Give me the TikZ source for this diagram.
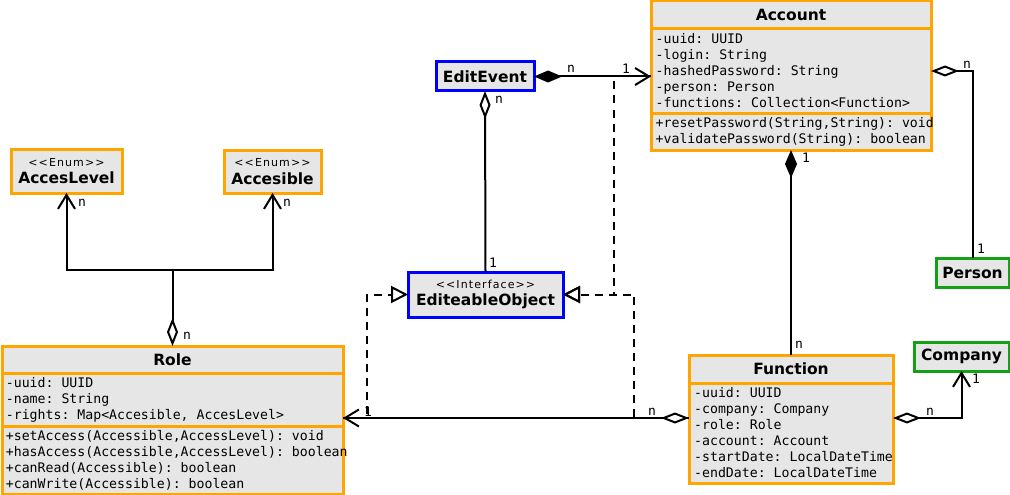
\documentclass[tikz,border=0pt]{standalone}
\usepackage{fontspec}
\setmainfont{DejaVu Sans}
\setmonofont{DejaVu Sans Mono}
\newfontfamily\stf{DejaVu Sans}[LetterSpace=10]
\usetikzlibrary{arrows.meta}
\definecolor{orng}{RGB}{255,165,0}
\definecolor{grn}{RGB}{20,160,20}
\definecolor{blu}{RGB}{0,0,255}
\definecolor{boxfill}{RGB}{230,230,230}
\tikzset{
  comp/.style={draw=orng, line width=3pt, fill=boxfill, anchor=north west, inner sep=0pt, outer sep=0pt},
  titlec/.style={comp, font=\fontsize{15.5}{18}\selectfont\bfseries, align=center},
  listtxt/.style={font=\fontsize{13.2}{16}\selectfont\ttfamily, align=left, inner sep=0pt, anchor=west},
  simple/.style={line width=3pt, fill=boxfill, anchor=north west, inner sep=0pt, outer sep=0pt,
    font=\fontsize{15.5}{17.6}\selectfont\bfseries, align=center},
  assoc/.style={draw=black, line width=2pt},
  real/.style={assoc, dash pattern=on 8pt off 6pt},
  mult/.style={font=\fontsize{13}{13}\selectfont\ttfamily, inner sep=0pt},
  umlO/.tip={Diamond[fill=white,length=28pt,width=11pt]},
  umlF/.tip={Diamond[length=28pt,width=12pt]},
  umlB/.tip={Straight Barb[length=14pt,width=17pt]},
  umlT/.tip={Triangle[open,length=17pt,width=17pt]},
}
\newcommand{\stereotype}[1]{{\stf\mdseries\fontsize{11}{12}\selectfont #1}}
\begin{document}
\begin{tikzpicture}[x=1pt,y=-1pt]
\useasboundingbox (0,0) rectangle (1010,495);

% Account
\node[titlec, minimum width=280pt, minimum height=28pt] (accT) at (651,1) {Account};
\node[comp, minimum width=280pt, minimum height=84pt] (accA) at (651,29) {};
\node[comp, minimum width=280pt, minimum height=37pt] (accM) at (651,113) {};
\node[listtxt] (accAt) at ([xshift=4.5pt]accA.west)
  {-uuid: UUID\\-login: String\\-hashedPassword: String\\-person: Person\\-functions: Collection<Function>};
\node[listtxt] (accMt) at ([xshift=4.5pt]accM.west)
  {+resetPassword(String,String): void\\+validatePassword(String): boolean};

% Role
\node[titlec, minimum width=341pt, minimum height=27pt] (roT) at (2,346) {Role};
\node[comp, minimum width=341pt, minimum height=53pt] (roA) at (2,373) {};
\node[comp, minimum width=341pt, minimum height=68pt] (roM) at (2,426) {};
\node[listtxt] (roAt) at ([xshift=3.7pt]roA.west)
  {-uuid: UUID\\-name: String\\-rights: Map<Accesible, AccesLevel>};
\node[listtxt] (roMt) at ([xshift=3.7pt]roM.west)
  {+setAccess(Accessible,AccessLevel): void\\+hasAccess(Accessible,AccessLevel): boolean\\+canRead(Accessible): boolean\\+canWrite(Accessible): boolean};

% Function
\node[titlec, minimum width=204pt, minimum height=28pt] (fnT) at (689,355) {Function};
\node[comp, minimum width=204pt, minimum height=100pt] (fnA) at (689,383) {};
\node[listtxt] (fnAt) at ([xshift=5pt]fnA.west)
  {-uuid: UUID\\-company: Company\\-role: Role\\-account: Account\\-startDate: LocalDateTime\\-endDate: LocalDateTime};

% simple classes
\node[simple, draw=blu, minimum width=98pt, minimum height=29pt] (ee) at (436,62) {EditEvent};
\node[simple, draw=blu, minimum width=155pt, minimum height=45pt] (eo) at (408,272)
  {\stereotype{<<Interface>>}\\EditeableObject};
\node[simple, draw=orng, minimum width=111pt, minimum height=44pt] (al) at (11,149)
  {\stereotype{<<Enum>>}\\AccesLevel};
\node[simple, draw=orng, minimum width=97pt, minimum height=43pt] (ac) at (224,150)
  {\stereotype{<<Enum>>}\\Accesible};
\node[simple, draw=grn, minimum width=73pt, minimum height=29pt] (person) at (936,258) {Person};
\node[simple, draw=grn, minimum width=95pt, minimum height=29pt] (comp) at (914,342) {Company};

% helper coordinates
\coordinate (accL) at (ee.east -| accA.west);
\coordinate (fnR) at (fnA.east |- 0,418);
\coordinate (fnL) at (fnA.west |- 0,418);
\coordinate (roR) at (roA.east |- 0,418);
\coordinate (rj) at (roT.north |- 0,270);
\coordinate (wA1) at (614,76.5);
\coordinate (wA2) at (614,294.5);
\coordinate (wF1) at (634,418);
\coordinate (wF2) at (634,294.5);
\coordinate (wR1) at (367,418);
\coordinate (wR2) at (367,294.5);

% realizations (dashed)
\draw[real, -{umlT}] (accL) -- (wA1) -- (wA2) -- (eo.east);
\draw[real, -{umlT}] (fnL) -- (wF1) -- (wF2) -- (eo.east);
\draw[real, -{umlT}] (roR) -- (wR1) -- (wR2) -- (eo.west);

% associations
\draw[assoc, {umlF}-{umlB}] (ee.east) -- (accL);
\draw[assoc, {umlO}-] (ee.south) -- (eo.north);
\draw[assoc, {umlF}-] (accM.south) -- (fnT.north);
\draw[assoc, {umlO}-] (accA.east) -| (person.north);
\draw[assoc, {umlO}-{umlB}] (fnR) -| (comp.south);
\draw[assoc, {umlO}-{umlB}] (fnL) -- (roR);
\draw[assoc, {umlO}-] (roT.north) -- (rj);
\draw[assoc, -{umlB}] (rj) -| (al.south);
\draw[assoc, -{umlB}] (rj) -| (ac.south);

% multiplicities
\node[mult] (m1) at (571,69) {n};
\node[mult] (m2) at (626,69) {1};
\node[mult] (m3) at (499,100) {n};
\node[mult] (m4) at (493,263) {1};
\node[mult] (m5) at (806,158) {1};
\node[mult] (m6) at (799,345) {n};
\node[mult] (m7) at (967,65) {n};
\node[mult] (m8) at (981,249) {1};
\node[mult] (m9) at (930,412) {n};
\node[mult] (m10) at (976,379) {1};
\node[mult] (m11) at (652,412) {n};
\node[mult] (m12) at (368,412) {1};
\node[mult] (m13) at (82,203) {n};
\node[mult] (m14) at (287,203) {n};
\node[mult] (m15) at (187,336) {n};
\end{tikzpicture}
\end{document}
